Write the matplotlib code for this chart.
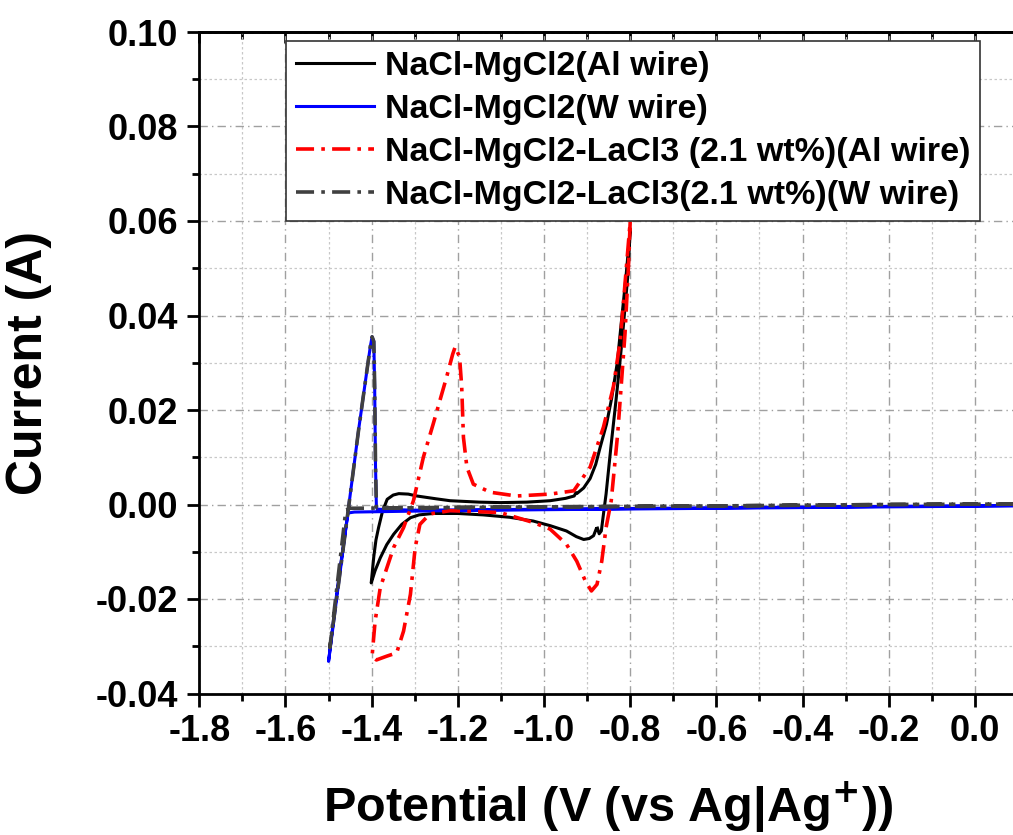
import numpy as np
import matplotlib
matplotlib.use("Agg")
import matplotlib.pyplot as plt
from matplotlib.ticker import MultipleLocator, FormatStrFormatter

plt.rcParams['font.family'] = ['Liberation Sans', 'DejaVu Sans']
plt.rcParams['font.weight'] = 'bold'
plt.rcParams['axes.unicode_minus'] = False

# NaCl-MgCl2 (Al wire)
al_x = [-0.879, -0.885, -0.895, -0.908, -0.925, -0.948, -0.985, -1.025, -1.080, -1.141,
        -1.200, -1.257, -1.290, -1.310, -1.330, -1.349, -1.365, -1.380, -1.392, -1.401,
        -1.395, -1.390, -1.384, -1.375, -1.364, -1.350, -1.337, -1.315, -1.295, -1.250,
        -1.218, -1.150, -1.102, -1.040, -0.986, -0.950, -0.930, -0.926, -0.924, -0.908,
        -0.893, -0.880, -0.870, -0.855, -0.843, -0.830, -0.819, -0.810, -0.800,
        -0.805, -0.816, -0.825, -0.833, -0.845, -0.856, -0.862, -0.867, -0.872, -0.876]
al_y = [-0.0052, -0.0066, -0.0072, -0.0074, -0.0068, -0.0056, -0.0045, -0.0035, -0.0027, -0.0022,
        -0.0019, -0.0019, -0.0022, -0.0028, -0.0042, -0.0063, -0.0085, -0.0113, -0.0140, -0.0166,
        -0.0110, -0.0075, -0.0049, -0.0015, 0.0011, 0.0020, 0.0023, 0.0022, 0.0018, 0.0012,
        0.0008, 0.0005, 0.0004, 0.0005, 0.0008, 0.0013, 0.0018, 0.0025, 0.0023, 0.0035,
        0.0055, 0.0085, 0.0120, 0.0170, 0.0225, 0.0300, 0.0400, 0.0480, 0.0582,
        0.0490, 0.0376, 0.0290, 0.0220, 0.0120, 0.0022, -0.0020, -0.0056, -0.0062, -0.0050]

# NaCl-MgCl2 (W wire)
w_x = [0.10, -0.20, -0.60, -1.00, -1.30, -1.44, -1.455, -1.480, -1.500,
       -1.480, -1.457, -1.430, -1.410, -1.403, -1.399, -1.395, -1.393, -1.391, -1.389,
       -1.387, -1.300, -1.000, -0.600, -0.200, 0.10]
w_y = [-0.0003, -0.0005, -0.0008, -0.0011, -0.0014, -0.0016, -0.0018, -0.0180, -0.0332,
       -0.0190, -0.0030, 0.0160, 0.0290, 0.0335, 0.0355, 0.0345, 0.0250, 0.0080, -0.0005,
       -0.0010, -0.0012, -0.0010, -0.0007, -0.0004, -0.0002]

# NaCl-MgCl2-LaCl3 (Al wire)
la_al_x = [-0.800, -0.804, -0.812, -0.829, -0.844, -0.856, -0.866, -0.877, -0.890, -0.904,
           -0.924, -0.948, -0.986, -1.025, -1.102, -1.218, -1.265, -1.288, -1.299, -1.310,
           -1.326, -1.342, -1.365, -1.389, -1.399, -1.392, -1.380, -1.349, -1.326, -1.303,
           -1.280, -1.257, -1.226, -1.212, -1.206, -1.196, -1.191, -1.187, -1.179, -1.164,
           -1.125, -1.064, -0.986, -0.931, -0.893, -0.862, -0.839, -0.823, -0.812, -0.800]
la_al_y = [0.0599, 0.0504, 0.0362, 0.0150, 0.0008, -0.0049, -0.0120, -0.0169, -0.0183, -0.0162,
           -0.0120, -0.0084, -0.0052, -0.0038, -0.0017, -0.0013, -0.0020, -0.0042, -0.0091, -0.0190,
           -0.0268, -0.0314, -0.0321, -0.0329, -0.0321, -0.0247, -0.0176, -0.0091, -0.0049, 0.0008,
           0.0100, 0.0171, 0.0270, 0.0318, 0.0334, 0.0312, 0.0249, 0.0142, 0.0079, 0.0043,
           0.0026, 0.0018, 0.0022, 0.0029, 0.0079, 0.0164, 0.0249, 0.0348, 0.0468, 0.0599]

# NaCl-MgCl2-LaCl3 (W wire)
la_w_x = [0.10, -0.20, -0.60, -1.00, -1.30, -1.45, -1.460, -1.480, -1.497,
          -1.480, -1.457, -1.430, -1.410, -1.403, -1.399, -1.395, -1.393, -1.391, -1.389,
          -1.387, -1.300, -1.000, -0.600, -0.200, 0.10]
la_w_y = [0.0001, 0.0000, -0.0003, -0.0005, -0.0007, -0.0008, -0.0012, -0.0170, -0.0303,
          -0.0190, -0.0030, 0.0160, 0.0290, 0.0335, 0.0355, 0.0345, 0.0250, 0.0080, -0.0004,
          -0.0007, -0.0007, -0.0005, -0.0003, 0.0000, 0.0001]

labels = ['NaCl-MgCl2(Al wire)', 'NaCl-MgCl2(W wire)',
          'NaCl-MgCl2-LaCl3 (2.1 wt%)(Al wire)', 'NaCl-MgCl2-LaCl3(2.1 wt%)(W wire)']

fig = plt.figure(figsize=(10.13, 8.35), dpi=100)
ax = fig.add_axes([199.3 / 1013, 1 - 693.5 / 835, 818.7 / 1013, 661.5 / 835])

ax.plot(al_x, al_y, color='k', lw=2.2, label=labels[0])
ax.plot(w_x, w_y, color='#0000ff', lw=2.2, label=labels[1])
ax.plot(la_al_x, la_al_y, color='#ff0000', lw=2.6, ls=(0, (5, 2, 1, 2)), label=labels[2])
ax.plot(la_w_x, la_w_y, color='#404040', lw=2.6, ls=(0, (5, 2, 1, 2)), label=labels[3])

ax.set_xlim(-1.8, 0.1)
ax.set_ylim(-0.04, 0.10)
ax.xaxis.set_major_locator(MultipleLocator(0.2))
ax.xaxis.set_minor_locator(MultipleLocator(0.1))
ax.yaxis.set_major_locator(MultipleLocator(0.02))
ax.yaxis.set_minor_locator(MultipleLocator(0.01))
ax.xaxis.set_major_formatter(FormatStrFormatter('%.1f'))
ax.yaxis.set_major_formatter(FormatStrFormatter('%.2f'))

ax.grid(which='major', color='#a0a0a0', ls=(0, (6, 3, 1, 3)), lw=1.0)
ax.grid(which='minor', color='#c8c8c8', ls=(0, (2, 2)), lw=0.9)
ax.set_axisbelow(True)

ax.tick_params(which='major', direction='out', length=9, width=2, labelsize=26, pad=6)
ax.tick_params(which='minor', direction='out', length=5, width=2)
for s in ax.spines.values():
    s.set_linewidth(2)

top = ax.secondary_xaxis('top')
top.xaxis.set_major_locator(MultipleLocator(0.2))
top.xaxis.set_minor_locator(MultipleLocator(0.1))
top.tick_params(which='major', direction='in', length=8, width=2, labeltop=False)
top.tick_params(which='minor', direction='in', length=5, width=2)
top.spines['top'].set_linewidth(2)

ax.set_xlabel('Potential (V (vs Ag|Ag$^{\\mathbf{+}}$))', fontsize=35, fontweight='bold', labelpad=22)
ax.set_ylabel('Current (A)', fontsize=36, fontweight='bold')
ax.yaxis.set_label_coords(-0.18, 0.5)

leg = ax.legend(loc='upper left', bbox_to_anchor=(286 / 1013, 1 - 41 / 835),
                bbox_transform=fig.transFigure, fontsize=24.5, frameon=True, fancybox=False,
                edgecolor='#333333', framealpha=1, handlelength=2.3, handletextpad=0.3,
                labelspacing=0.35, borderpad=0.3, borderaxespad=0)
leg.get_frame().set_linewidth(1.2)
for t in leg.get_texts():
    t.set_fontweight('bold')

fig.savefig('out.png', dpi=100)
